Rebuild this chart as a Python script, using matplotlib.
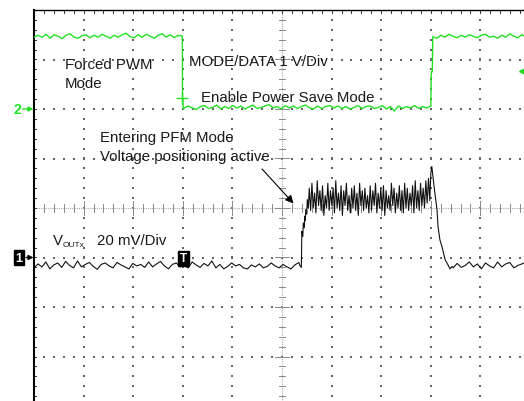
import numpy as np
import matplotlib
matplotlib.use("Agg")
import matplotlib.pyplot as plt

plt.rcParams['font.family'] = ['Liberation Sans', 'DejaVu Sans']

# ---- channel setup (divisions on screen) ----
ch1_offset = -1.0      # VOUT marker, div
ch1_scale = 20.0       # mV/div
ch2_offset = 2.0       # MODE/DATA marker, div
ch2_scale = 1.0        # V/div

# ---- CH1: VOUT (mV, relative to channel marker) ----
vout_base1 = [-4.2, -2.6, -3.8, -1.8, -4.6, -3.0, -2.2, -4.0, -1.6, -3.2, -4.2, -1.4, -3.8, -2.8,
              -2.0, -3.6, -4.8, -2.8, -2.2, -3.4, -4.2, -2.0, -3.0, -3.8, -4.6, -2.4, -3.4, -2.8,
              -4.0, -1.8, -3.8, -2.6, -1.6, -3.4, -4.6, -2.8, -2.2, -3.8, -3.2, -4.2, -1.8, -3.0,
              -4.0, -2.4, -3.4, -1.4, -4.2, -2.8, -4.6, -3.6, -2.2, -3.4, -2.8, -4.2, -4.6, -3.0,
              -3.8, -2.6, -4.2, -3.6, -2.2, -3.4, -4.2, -2.8, -3.8, -4.6, -3.0, -2.0]
vout_rise_t = [5.36, 5.39, 5.40, 5.42, 5.43, 5.45, 5.46, 5.47, 5.48, 5.50, 5.51, 5.53]
vout_rise = [-3.2, -4.0, 10.6, 8.5, 14.0, 12.0, 16.7, 15.0, 19.4, 17.5, 23.4, 20.0]
vout_ripple = [28, 19, 30, 20, 26, 18, 31, 21, 27, 19, 29, 17, 25, 20, 30, 19, 27, 21, 28, 18,
               31, 20, 26, 19, 29, 17, 27, 21, 30, 19, 25, 18, 28, 20, 29, 19, 26, 17, 30, 21,
               27, 19, 28, 20, 25, 18, 29, 19, 27, 21, 30, 18, 26, 20, 28, 19, 29, 17, 27, 20,
               25, 19, 30, 21, 28, 18, 26, 20, 29, 19, 27, 18, 30, 20, 28, 19, 26, 21, 29, 18,
               31, 20, 27, 19, 30, 21, 28, 20, 31, 22, 32, 23]
vout_fall_t = [8.00, 8.02, 8.06, 8.08, 8.125, 8.145, 8.185, 8.226, 8.286, 8.347, 8.387, 8.427]
vout_fall = [34.0, 36.8, 30.0, 26.3, 19.4, 12.5, 7.0, 4.4, -0.8, -3.0, -4.6, -3.6]
vout_base2 = [-4.2, -2.4, -4.0, -3.2, -1.8, -3.8, -2.6, -4.6, -2.2, -3.4, -4.2, -1.8, -3.8,
              -2.6, -2.0, -4.2, -3.2, -2.6, -1.8, -3.8]

# ---- CH2: MODE/DATA (V, relative to channel marker) ----
mode_hi1 = [1.45, 1.49, 1.45, 1.51, 1.43, 1.50, 1.47, 1.42, 1.49, 1.52, 1.45, 1.43, 1.48, 1.50,
            1.44, 1.49, 1.45, 1.51, 1.47, 1.43, 1.49, 1.45, 1.50, 1.53, 1.46, 1.44, 1.50, 1.45,
            1.51, 1.47, 1.43, 1.49, 1.52, 1.45, 1.50, 1.44, 1.49, 1.47]
mode_fall_t = [2.995, 3.0, 3.01]
mode_fall = [0.22, 0.22, 0.0]
mode_lo = [0.02, 0.06, 0.02, -0.01, 0.05, 0.07, 0.01, 0.03, 0.08, 0.00, 0.05, 0.01, 0.07, 0.02,
           0.06, 0.00, 0.04, 0.08, 0.01, 0.03, 0.06, 0.09, 0.02, 0.05, 0.00, 0.07, 0.02, 0.06,
           0.01, 0.05, 0.08, 0.02, 0.00, 0.06, 0.01, 0.05, 0.07, 0.02, 0.06, 0.01, 0.05, 0.00,
           0.03, 0.07, 0.01, 0.05, 0.06, 0.01, 0.03, 0.07, 0.00, 0.05, -0.04, 0.06, 0.01, 0.05,
           0.02, 0.07, 0.01, 0.05, 0.02, 0.06]
mode_rise_t = [8.01, 8.03]
mode_rise = [0.75, 0.75]
mode_hi2 = [1.46, 1.43, 1.49, 1.45, 1.51, 1.47, 1.44, 1.49, 1.45, 1.50, 1.47, 1.44, 1.49, 1.51,
            1.45, 1.47, 1.43, 1.49, 1.45, 1.52, 1.47, 1.44, 1.50, 1.45, 1.48]

t1 = np.concatenate([np.linspace(0, 5.34, len(vout_base1)), vout_rise_t,
                     np.linspace(5.55, 7.98, len(vout_ripple)), vout_fall_t,
                     np.linspace(8.45, 10, len(vout_base2))])
v1 = np.concatenate([vout_base1, vout_rise, vout_ripple, vout_fall, vout_base2])

t2 = np.concatenate([np.linspace(0, 2.99, len(mode_hi1)), mode_fall_t,
                     np.linspace(3.03, 8.0, len(mode_lo)), mode_rise_t,
                     np.linspace(8.04, 10, len(mode_hi2))])
v2 = np.concatenate([mode_hi1, mode_fall, mode_lo, mode_rise, mode_hi2])

fig = plt.figure(figsize=(5.24, 4.02), dpi=100)
ax = fig.add_axes([34 / 524, -5 / 402, 496 / 524, 396 / 402])
ax.set_xlim(0, 10)
ax.set_ylim(-4, 4)
ax.set_xticks([])
ax.set_yticks([])
for s in ['right', 'bottom']:
    ax.spines[s].set_visible(False)
ax.spines['left'].set_linewidth(1.5)
ax.spines['top'].set_linewidth(1.0)

# ---- scope graticule ----
fine_y = np.arange(-4, 4.001, 0.2)
fine_x = np.arange(0, 10.001, 0.2)
for i in range(1, 10):
    if i == 5:
        continue
    ax.scatter(np.full(len(fine_y), i), fine_y, s=0.8, marker='s', color='#666666',
               linewidths=0, zorder=1)
for j in [-3, -2, -1, 1, 2, 3]:
    ax.scatter(fine_x, np.full(len(fine_x), j), s=0.8, marker='s', color='#666666',
               linewidths=0, zorder=1)
# centre cross
ax.plot([5, 5], [-4, 4], color='#aaaaaa', lw=0.8, ls=(0, (1, 1)), zorder=1)
ax.plot([0, 10], [0, 0], color='#aaaaaa', lw=0.8, ls=(0, (1, 1)), zorder=1)
for y in fine_y:
    w = 0.14 if abs(y - round(y)) < 1e-6 else 0.07
    ax.plot([5 - w, 5 + w], [y, y], color='#888888', lw=0.7, zorder=1)
for x in fine_x:
    h = 0.14 if abs(x - round(x)) < 1e-6 else 0.08
    ax.plot([x, x], [-h, h], color='#888888', lw=0.7, zorder=1)
# edge ticks
for y in fine_y:
    ax.plot([0, 0.05], [y, y], color='#333333', lw=0.7, zorder=1)
for x in fine_x:
    ax.plot([x, x], [4, 3.93], color='#333333', lw=0.7, zorder=1)

# ---- traces ----
ax.plot(t2, ch2_offset + np.array(v2) / ch2_scale, color='#22e022', lw=1.0, zorder=3)
ax.plot(t1, ch1_offset + v1 / ch1_scale, color='#111111', lw=0.8, zorder=4)

# ---- markers ----
ax.text(-0.30, ch1_offset, '1', color='white', fontsize=9, fontweight='bold', ha='center',
        va='center', clip_on=False,
        bbox=dict(boxstyle='square,pad=0.15', fc='black', ec='black'))
ax.annotate('', xy=(-0.01, ch1_offset), xytext=(-0.16, ch1_offset),
            arrowprops=dict(arrowstyle='-|>', color='black', lw=1.0, mutation_scale=7,
                            shrinkA=0, shrinkB=0),
            annotation_clip=False)
ax.text(-0.34, ch2_offset, '2', color='#22e022', fontsize=10, fontweight='bold', ha='center',
        va='center', clip_on=False)
ax.annotate('', xy=(-0.01, ch2_offset), xytext=(-0.23, ch2_offset),
            arrowprops=dict(arrowstyle='-|>', color='#22e022', lw=1.0, mutation_scale=7,
                            shrinkA=0, shrinkB=0),
            annotation_clip=False)
ax.text(3.01, -1.02, 'T', color='white', fontsize=8.5, fontweight='bold', ha='center',
        va='center', zorder=5,
        bbox=dict(boxstyle='square,pad=0.15', fc='black', ec='black'))
ax.plot([2.985], [2.22], marker='+', ms=8, color='#22e022', mew=1.0, zorder=3)
ax.plot([9.84], [2.77], marker='<', ms=5, color='#22e022', zorder=3, clip_on=False)

# ---- annotations ----
tc = '#1a1a1a'
fs = 10.8
ax.text(0.63, 2.83, 'Forced PWM', fontsize=fs, color=tc, va='baseline')
ax.text(0.63, 2.44, 'Mode', fontsize=fs, color=tc, va='baseline')
ax.text(3.125, 2.89, 'MODE/DATA 1 V/Div', fontsize=fs, color=tc, va='baseline')
ax.text(3.37, 2.16, 'Enable Power Save Mode', fontsize=fs, color=tc, va='baseline')
ax.text(1.33, 1.36, 'Entering PFM Mode', fontsize=fs, color=tc, va='baseline')
ax.text(1.33, 0.97, 'Voltage positioning active', fontsize=fs, color=tc, va='baseline')
ax.text(0.38, -0.727, 'V', fontsize=fs, color=tc, va='baseline')
ax.text(0.585, -0.77, 'OUTx', fontsize=6, color=tc, va='baseline')
ax.text(1.27, -0.727, '20 mV/Div', fontsize=fs, color=tc, va='baseline')
ax.annotate('', xy=(5.27, 0.05), xytext=(4.56, 0.83),
            arrowprops=dict(arrowstyle='-|>', color='black', lw=0.8, mutation_scale=12))

fig.savefig('out.png', dpi=100)
